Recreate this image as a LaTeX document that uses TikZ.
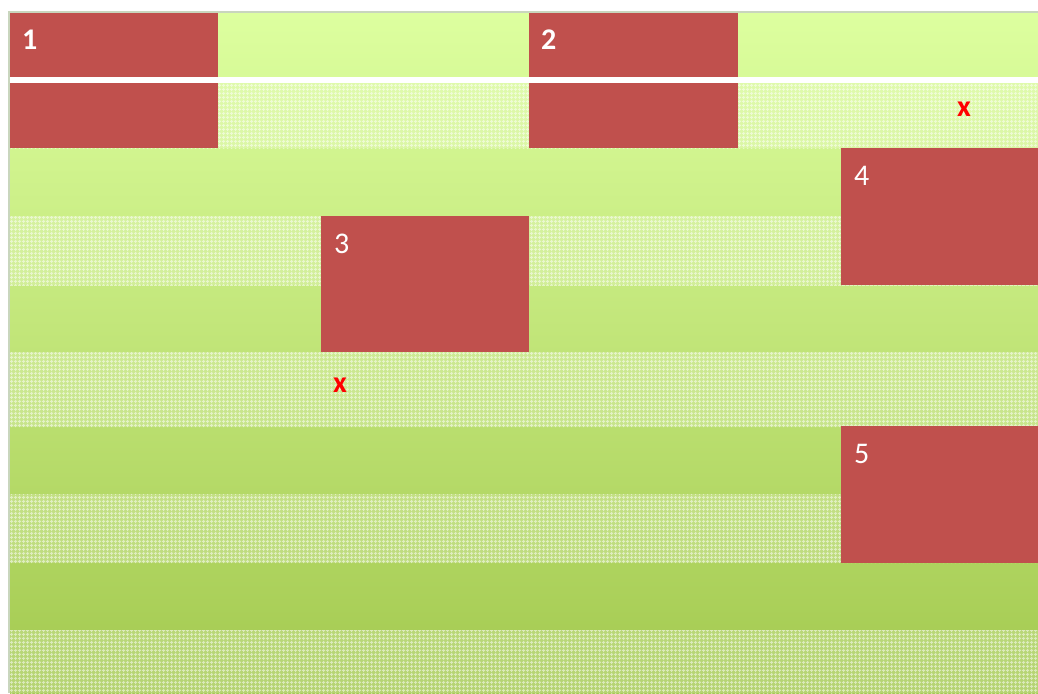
\documentclass[tikz,border=0pt]{standalone}
\usepackage{fontspec}
\setmainfont{Carlito}
\usetikzlibrary{patterns.meta}
\definecolor{boxred}{HTML}{C0504D}
\definecolor{topgreen}{HTML}{DDFF9F}
\definecolor{botgreen}{HTML}{A3C94F}
\definecolor{framegray}{HTML}{C9D6BE}
\definecolor{markred}{HTML}{FF0000}
\tikzset{
  redbox/.style={fill=boxred, draw=none, inner sep=0pt, anchor=north west},
  numlabel/.style={text=white, inner sep=0pt, anchor=base west, font=\fontsize{30}{36}\selectfont},
  marklabel/.style={text=markred, inner sep=0pt, anchor=base west, font=\fontsize{30}{36}\selectfont\bfseries},
  texture/.style={pattern={Hatch[angle=0, distance=4pt, line width=1.1pt]}, pattern color=white}
}
\begin{document}
\begin{tikzpicture}[x=1pt,y=-1pt]
\useasboundingbox (0,0) rectangle (1038,693);
\fill[white] (0,0) rectangle (1038,693);
% background gradient
\shade[top color=topgreen, bottom color=botgreen] (10,13) rectangle (1038,693);
% textured rows
\foreach \ya/\yb in {83/148, 216/285, 352/427, 494/563, 630/693} {
  \fill[white, fill opacity=0.2] (10,\ya) rectangle (1038,\yb);
  \fill[texture, fill opacity=0.5] (10,\ya) rectangle (1038,\yb);
}
% frame
\draw[framegray, line width=2pt] (9,693) -- (9,12) -- (1038,12);
% boxes
\node[redbox, minimum width=208, minimum height=135] (b1) at (10,13) {};
\node[redbox, minimum width=209, minimum height=135] (b2) at (529,13) {};
\node[redbox, minimum width=208, minimum height=136] (b3) at (321,216) {};
\node[redbox, minimum width=197, minimum height=137] (b4) at (841,148) {};
\node[redbox, minimum width=197, minimum height=137] (b5) at (841,426) {};
% white gap
\fill[white] (10,77) rectangle (1038,83);
% labels
\node[numlabel, font=\fontsize{30}{36}\selectfont\bfseries] (t1) at (22,49) {1};
\node[numlabel, font=\fontsize{30}{36}\selectfont\bfseries] (t2) at (541,49) {2};
\node[numlabel] (t3) at (334,253) {3};
\node[numlabel] (t4) at (854,185) {4};
\node[numlabel] (t5) at (854,463) {5};
\node[marklabel] (x1) at (957,116) {x};
\node[marklabel] (x2) at (333,392) {x};
\end{tikzpicture}
\end{document}
